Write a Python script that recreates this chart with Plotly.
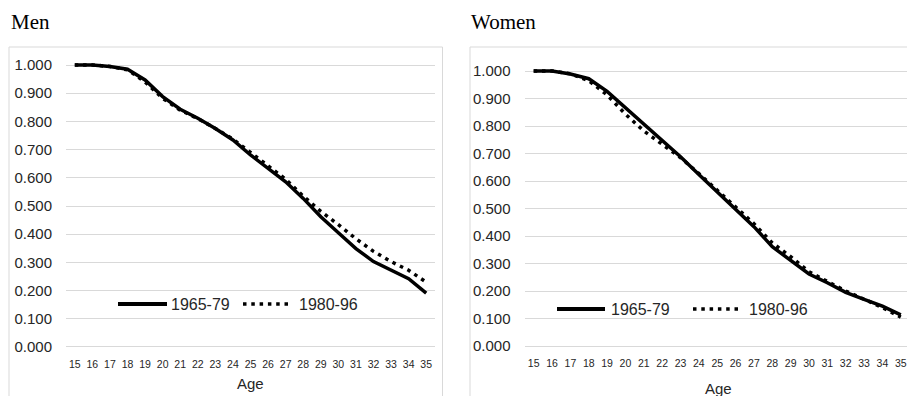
import plotly.graph_objects as go

W, H = 907, 396

ages = [str(a) for a in range(15, 36)]

men_1965_79 = [1.000, 1.000, 0.995, 0.985, 0.947, 0.888, 0.843, 0.811, 0.775, 0.734, 0.681,
               0.634, 0.586, 0.527, 0.462, 0.405, 0.349, 0.303, 0.273, 0.242, 0.191]
men_1980_96 = [1.000, 1.000, 0.995, 0.983, 0.940, 0.882, 0.840, 0.810, 0.775, 0.737, 0.690,
               0.642, 0.595, 0.535, 0.481, 0.434, 0.384, 0.339, 0.303, 0.272, 0.230]
women_1965_79 = [1.000, 1.000, 0.989, 0.972, 0.926, 0.866, 0.807, 0.749, 0.688, 0.624, 0.560,
                 0.496, 0.434, 0.361, 0.313, 0.262, 0.230, 0.195, 0.170, 0.145, 0.113]
women_1980_96 = [1.000, 1.000, 0.990, 0.965, 0.913, 0.843, 0.782, 0.733, 0.685, 0.627, 0.566,
                 0.506, 0.445, 0.375, 0.325, 0.270, 0.235, 0.200, 0.170, 0.140, 0.105]

y_ticks = [0.0, 0.1, 0.2, 0.3, 0.4, 0.5, 0.6, 0.7, 0.8, 0.9, 1.0]
series_names = ["1965-79", "1980-96"]
panel_titles = ["Men", "Women"]


def px_x(p):
    return p / W


def px_y(p):
    return 1 - p / H


SANS = "Liberation Sans, Arial, sans-serif"
SERIF = "Liberation Serif, Times New Roman, serif"
GRID = "#d9d9d9"
TXT = "#262626"
DOTDASH = "3.5px,4.8px"
SOLID = dict(color="black", width=3.5)
DOT = dict(color="black", width=3.5, dash=DOTDASH)

fig = go.Figure()
fig.add_trace(go.Scatter(x=ages, y=men_1965_79, mode="lines", line=SOLID,
                         name=series_names[0], xaxis="x", yaxis="y", showlegend=False))
fig.add_trace(go.Scatter(x=ages, y=men_1980_96, mode="lines", line=DOT,
                         name=series_names[1], xaxis="x", yaxis="y", showlegend=False))
fig.add_trace(go.Scatter(x=ages, y=women_1965_79, mode="lines", line=SOLID,
                         name=series_names[0], xaxis="x2", yaxis="y2", showlegend=False))
fig.add_trace(go.Scatter(x=ages, y=women_1980_96, mode="lines", line=DOT,
                         name=series_names[1], xaxis="x2", yaxis="y2", showlegend=False))

xcommon = dict(type="category", showgrid=False, zeroline=False, showline=False, ticks="",
               tickfont=dict(family=SANS, size=10.5, color=TXT), ticklabelstandoff=8,
               automargin=False, fixedrange=True)
ycommon = dict(showgrid=True, gridcolor=GRID, gridwidth=1, zeroline=False, showline=False,
               ticks="", tickvals=y_ticks, tickformat=".3f",
               tickfont=dict(family=SANS, size=15, color=TXT), ticklabelstandoff=13,
               range=[-0.005, 1.01], automargin=False, fixedrange=True)

fig.update_layout(
    template="none",
    width=W, height=H,
    margin=dict(l=0, r=0, t=0, b=0, pad=0, autoexpand=False),
    paper_bgcolor="white", plot_bgcolor="white",
    xaxis=dict(xcommon, domain=[px_x(66), px_x(435)], range=[-0.5, 20.5], anchor="y"),
    yaxis=dict(ycommon, domain=[px_y(348.4), px_y(62.2)], anchor="x"),
    xaxis2=dict(xcommon, domain=[px_x(524.5), 1.0], range=[-0.5, 20.34], anchor="y2"),
    yaxis2=dict(ycommon, domain=[px_y(347.4), px_y(68.25)], anchor="x2"),
)

shapes = [
    dict(type="rect", xref="paper", yref="paper", x0=px_x(9), x1=px_x(442.5),
         y0=px_y(400), y1=px_y(47), line=dict(color=GRID, width=1)),
    dict(type="rect", xref="paper", yref="paper", x0=px_x(470), x1=px_x(912),
         y0=px_y(400), y1=px_y(47), line=dict(color=GRID, width=1)),
]
annotations = []

# legends (one per panel)
legend_pos = [
    dict(s0=118, s1=167, t1=169, d0=243, d1=290, t2=297, y=304),
    dict(s0=557, s1=605, t1=609, d0=693, d1=740, t2=747, y=309),
]
for lp in legend_pos:
    shapes.append(dict(type="line", xref="paper", yref="paper", x0=px_x(lp["s0"]), x1=px_x(lp["s1"]),
                       y0=px_y(lp["y"]), y1=px_y(lp["y"]), line=dict(color="black", width=4)))
    shapes.append(dict(type="line", xref="paper", yref="paper", x0=px_x(lp["d0"]), x1=px_x(lp["d1"]),
                       y0=px_y(lp["y"]), y1=px_y(lp["y"]),
                       line=dict(color="black", width=3.5, dash=DOTDASH)))
    for tx, nm in ((lp["t1"], series_names[0]), (lp["t2"], series_names[1])):
        annotations.append(dict(xref="paper", yref="paper", x=px_x(tx), y=px_y(lp["y"]),
                                xanchor="left", yanchor="middle", showarrow=False, text=nm,
                                font=dict(family=SANS, size=16, color=TXT)))

# panel titles
for tx, title in ((9, panel_titles[0]), (469, panel_titles[1])):
    annotations.append(dict(xref="paper", yref="paper", x=px_x(tx), y=px_y(22),
                            xanchor="left", yanchor="middle", showarrow=False, text=title,
                            font=dict(family=SERIF, size=21, color="black")))

# axis titles
for cx, cy in ((250, 383), (718, 388)):
    annotations.append(dict(xref="paper", yref="paper", x=px_x(cx), y=px_y(cy),
                            xanchor="center", yanchor="middle", showarrow=False, text="Age",
                            font=dict(family=SANS, size=15, color=TXT)))

fig.update_layout(shapes=shapes, annotations=annotations)
fig.write_html("out.html", config={"displayModeBar": False},
               post_script="document.body.style.margin='0px';document.body.style.overflow='hidden';")
